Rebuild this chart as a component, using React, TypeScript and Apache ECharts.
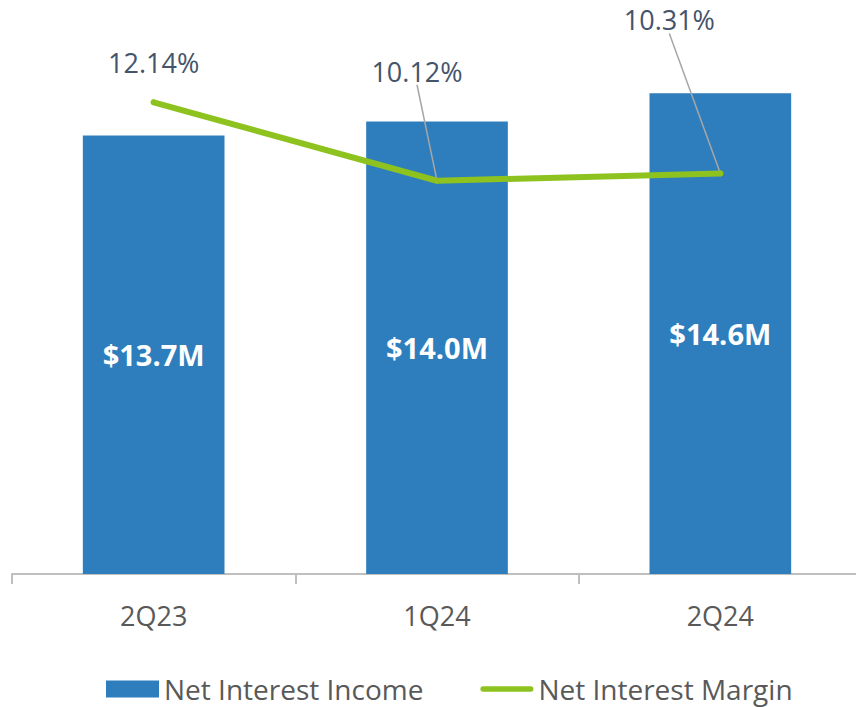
import React, { useEffect, useRef } from "react";
import * as echarts from "echarts";

const categories = ["2Q23", "1Q24", "2Q24"];
const netInterestIncome = [13.7, 14.0, 14.6];
const netInterestMargin = [12.14, 10.12, 10.31];
const seriesNames = ["Net Interest Income", "Net Interest Margin"];

const BLUE = "#2E7EBD";
const GREEN = "#8DC21F";
const FONT = "'Open Sans', 'Noto Sans', sans-serif";

// label displacement for the margin labels (dx, dy in px)
const marginLabelShift = [
  [0, -18],
  [-20, -88],
  [-51, -132],
];

export default function App() {
  const ref = useRef<HTMLDivElement>(null);
  useEffect(() => {
    document.body.style.margin = "0";
    if (!ref.current) return;
    const chart = echarts.init(ref.current, undefined, { renderer: "svg" });
    chart.setOption({
      animation: false,
      backgroundColor: "#ffffff",
      grid: { left: 12, width: 850, top: 30, bottom: 133, outerBoundsMode: "none", containLabel: false },
      legend: {
        data: [
          { name: seriesNames[0], icon: "rect" },
          {
            name: seriesNames[1],
            icon: "path://M3,0 H57 A3,3 0 0 1 57,6 H3 A3,3 0 0 1 3,0 Z",
          },
        ],
        left: 101,
        top: 670,
        itemWidth: 53,
        itemHeight: 17,
        itemGap: 57,
        symbolKeepAspect: true,
        textStyle: { fontFamily: FONT, fontSize: 28, color: "#595959" },
      },
      xAxis: {
        type: "category",
        data: categories,
        boundaryGap: true,
        axisLine: { show: true, lineStyle: { color: "#BFBFBF", width: 2 } },
        axisTick: { show: true, length: 10, lineStyle: { color: "#BFBFBF", width: 2 } },
        axisLabel: { margin: 28, fontFamily: FONT, fontSize: 27, color: "#595959" },
        splitLine: { show: false },
      },
      yAxis: [
        { type: "value", min: 4.35, max: 15.95, show: false, splitLine: { show: false } },
        { type: "value", min: 0, max: 14, show: false, splitLine: { show: false } },
      ],
      series: [
        {
          name: seriesNames[0],
          type: "bar",
          data: netInterestIncome,
          barWidth: "50%",
          itemStyle: { color: BLUE },
          label: {
            show: true,
            position: "inside",
            color: "#ffffff",
            fontFamily: FONT,
            fontWeight: "bold",
            fontSize: 29,
            formatter: (p: any) => "$" + Number(p.value).toFixed(1) + "M",
          },
        },
        {
          name: seriesNames[1],
          type: "line",
          yAxisIndex: 1,
          data: netInterestMargin.map((v, i) =>
            i === 0 ? { value: v, labelLine: { show: false } } : { value: v }
          ),
          symbol: "circle",
          symbolSize: 6,
          showSymbol: true,
          itemStyle: { color: GREEN },
          lineStyle: { color: GREEN, width: 6, cap: "round", join: "round" },
          label: {
            show: true,
            position: "top",
            distance: 5,
            fontFamily: FONT,
            fontSize: 27,
            color: "#44546A",
            formatter: (p: any) => Number(p.value).toFixed(2) + "%",
          },
          labelLine: { show: true, lineStyle: { color: "#A6A6A6", width: 1.5 } },
          labelLayout: (params: any) => {
            const s = marginLabelShift[params.dataIndex] || [0, 0];
            return { dx: s[0], dy: s[1] };
          },
        },
      ],
    });
    return () => chart.dispose();
  }, []);
  return <div ref={ref} style={{ width: 856, height: 707 }} />;
}
